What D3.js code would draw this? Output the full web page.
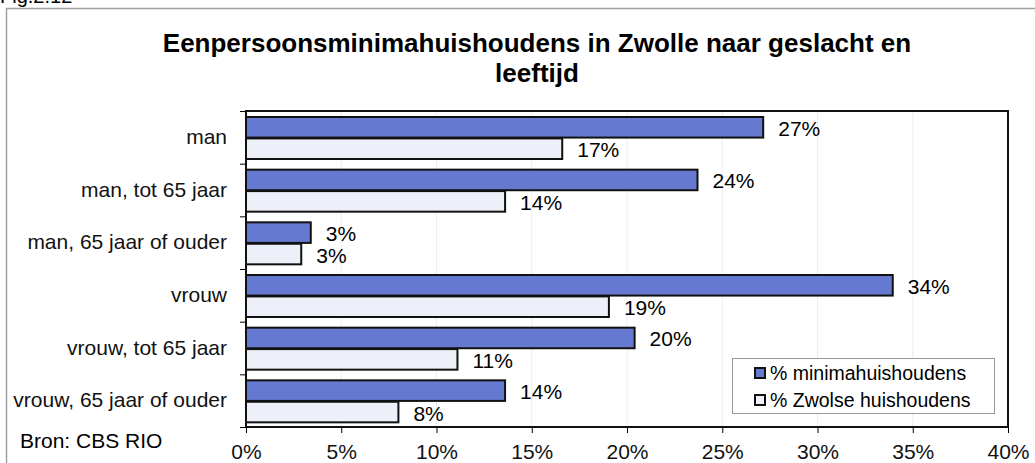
<!DOCTYPE html>
<html>
<head>
<meta charset="utf-8">
<script src="https://cdn.jsdelivr.net/npm/d3@7"></script>
<style>
   body { margin: 0; background: #fff; }
   svg { display: block; font-family: "Liberation Sans", Arial, sans-serif; }
</style>
</head>
<body>
<div class="bar-chart-container"></div>
<script>
// grouped horizontal bars, one group per category

const categories = [
   'man',
   'man, tot 65 jaar',
   'man, 65 jaar of ouder',
   'vrouw',
   'vrouw, tot 65 jaar',
   'vrouw, 65 jaar of ouder'
];
const series_names = ['% minimahuishoudens', '% Zwolse huishoudens'];
const minima_values = [27.15, 23.7, 3.4, 33.95, 20.4, 13.6];
const zwolle_values = [16.6, 13.6, 2.9, 19.05, 11.1, 8.0];
const x_ticks = [0, 5, 10, 15, 20, 25, 30, 35, 40];
const title_lines = ['Eenpersoonsminimahuishoudens in Zwolle naar geslacht en', 'leeftijd'];

function prepare_data() {
   const colors = ['#6679d0', '#edf0f8'];
   const values = [minima_values, zwolle_values];
   return categories.map((c, i) => ({
      category: c,
      bars: series_names.map((s, j) => ({series: s, value: values[j][i], color: colors[j]}))
   }));
}

function build_container(width, height) {
   return d3.select('.bar-chart-container')
      .append('svg')
      .attr('width', width)
      .attr('height', height);
}

function draw_frame(svg) {
   // the gray border round the whole figure, cut off at the right and bottom
   svg.append('rect')
      .attr('x', 6.5).attr('y', 8.5)
      .attr('width', 1100).attr('height', 500)
      .style('fill', 'none')
      .style('stroke', '#a0a0a0')
      .style('stroke-width', 1.5);

   // figure number, cut off at the top like in the source
   svg.append('text')
      .attr('x', 0).attr('y', 3)
      .text('Fig.2.12')
      .style('font-size', '20px');

   svg.append('g')
      .selectAll('text')
      .data(title_lines)
      .enter()
      .append('text')
      .attr('x', 537)
      .attr('y', (d, i) => 52 + i * 30)
      .attr('text-anchor', 'middle')
      .text(d => d)
      .style('font-size', '26px')
      .style('font-weight', 'bold');

   svg.append('text')
      .attr('x', 20).attr('y', 448)
      .text('Bron: CBS RIO')
      .style('font-size', '21px');
}

function draw_chart(svg, data) {
   const x_scale = d3.scaleLinear().domain([0, 40]).range([246, 1008]);
   const y_scale = d3.scaleBand().domain(categories).range([111, 427]);
   const bar_scale = d3.scaleBand().domain(series_names).range([6, 48]).paddingInner(0.04);
   const fmt = d3.format('.0f');

   // faint gridlines
   svg.append('g')
      .selectAll('line')
      .data(x_ticks.slice(1, -1))
      .enter()
      .append('line')
      .attr('x1', d => x_scale(d)).attr('x2', d => x_scale(d))
      .attr('y1', 111).attr('y2', 427)
      .style('stroke', '#eeeef2')
      .style('stroke-width', 1);

   const groups = svg.append('g')
      .selectAll('.group')
      .data(data)
      .enter()
      .append('g')
      .attr('class', 'group')
      .attr('transform', d => `translate(0, ${y_scale(d.category)})`);

   groups.selectAll('rect')
      .data(d => d.bars)
      .enter()
      .append('rect')
      .attr('x', x_scale(0))
      .attr('y', d => bar_scale(d.series))
      .attr('width', d => x_scale(d.value) - x_scale(0))
      .attr('height', bar_scale.bandwidth())
      .style('fill', d => d.color)
      .style('stroke', '#111')
      .style('stroke-width', 2);

   groups.selectAll('.value-label')
      .data(d => d.bars)
      .enter()
      .append('text')
      .attr('class', 'value-label')
      .attr('x', d => x_scale(d.value) + 15)
      .attr('y', d => bar_scale(d.series) + bar_scale.bandwidth() / 2 + 1)
      .attr('dominant-baseline', 'central')
      .text(d => fmt(d.value) + '%')
      .style('font-size', '21px');

   // plot area border
   svg.append('rect')
      .attr('x', 246).attr('y', 111)
      .attr('width', 1008 - 246).attr('height', 427 - 111)
      .style('fill', 'none')
      .style('stroke', '#111')
      .style('stroke-width', 2);

   // x axis
   const x_axis = d3.axisBottom(x_scale)
      .tickValues(x_ticks)
      .tickFormat(d => d + '%')
      .tickSize(6)
      .tickPadding(11);
   const xg = svg.append('g')
      .attr('transform', 'translate(0, 427)')
      .call(x_axis);
   xg.select('.domain').remove();
   xg.selectAll('text').style('font-size', '21px').style('fill', '#111').style('font-family', 'inherit');

   // tick marks between the categories
   const boundary_scale = d3.scaleLinear().domain([0, categories.length]).range([111, 427]);
   const bg = svg.append('g')
      .attr('transform', 'translate(246, 0)')
      .call(d3.axisLeft(boundary_scale).tickValues(d3.range(categories.length + 1)).tickFormat('').tickSize(6));
   bg.select('.domain').remove();

   // category labels
   const yg = svg.append('g')
      .attr('transform', 'translate(246, 0)')
      .call(d3.axisLeft(y_scale).tickSize(0).tickPadding(19));
   yg.select('.domain').remove();
   yg.selectAll('text').style('font-size', '21px').style('fill', '#111').style('font-family', 'inherit');
}

function draw_legend(svg, data) {
   const legend = svg.append('g').attr('class', 'legend');
   legend.append('rect')
      .attr('x', 732.5).attr('y', 358.5)
      .attr('width', 262).attr('height', 55)
      .style('fill', '#fff')
      .style('stroke', '#999')
      .style('stroke-width', 1);

   const items = legend.selectAll('.item')
      .data(data[0].bars)
      .enter()
      .append('g')
      .attr('transform', (d, i) => `translate(755, ${373 + i * 27})`);

   items.append('rect')
      .attr('x', 0).attr('y', -5)
      .attr('width', 10).attr('height', 10)
      .style('fill', d => d.color)
      .style('stroke', '#111')
      .style('stroke-width', 2);

   items.append('text')
      .attr('x', 15).attr('y', 0)
      .attr('dominant-baseline', 'central')
      .text(d => d.series)
      .style('font-size', '19.5px');
}

function bar_chart_main() {
   const data = prepare_data();
   const svg = build_container(1035, 463);
   draw_frame(svg);
   draw_chart(svg, data);
   draw_legend(svg, data);
}

bar_chart_main();
</script>
</body>
</html>
